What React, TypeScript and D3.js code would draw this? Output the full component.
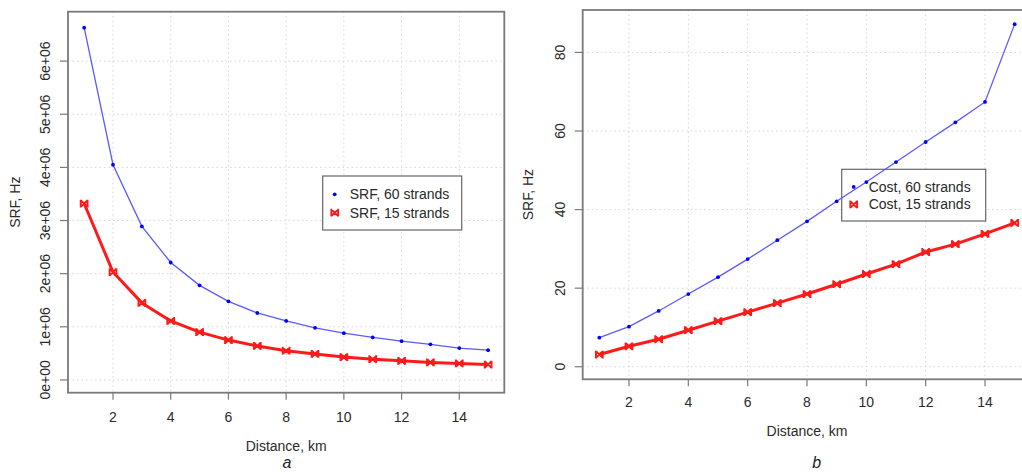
import React from "react";
import * as d3 from "d3";

const distances = [1, 2, 3, 4, 5, 6, 7, 8, 9, 10, 11, 12, 13, 14, 15];
const srf60 = [6.63e6, 4.05e6, 2.89e6, 2.21e6, 1.78e6, 1.48e6, 1.26e6, 1.11e6, 0.98e6, 0.88e6, 0.8e6, 0.73e6, 0.67e6, 0.6e6, 0.56e6];
const srf15 = [3.32e6, 2.03e6, 1.45e6, 1.11e6, 0.9e6, 0.75e6, 0.64e6, 0.55e6, 0.49e6, 0.43e6, 0.39e6, 0.36e6, 0.33e6, 0.31e6, 0.29e6];
const cost60 = [7.4, 10.2, 14.2, 18.5, 22.8, 27.4, 32.2, 37.0, 42.1, 47.0, 52.1, 57.2, 62.2, 67.4, 87.2];
const cost15 = [3.1, 5.2, 7.0, 9.3, 11.6, 13.9, 16.2, 18.5, 21.0, 23.6, 26.1, 29.2, 31.2, 33.8, 36.6];
const xTicks = [2, 4, 6, 8, 10, 12, 14];
const yTicksA = [0, 1e6, 2e6, 3e6, 4e6, 5e6, 6e6];
const yTickLabelsA = ["0e+00", "1e+06", "2e+06", "3e+06", "4e+06", "5e+06", "6e+06"];
const yTicksB = [0, 20, 40, 60, 80];
const yTickLabelsB = ["0", "20", "40", "60", "80"];
const legendA = ["SRF, 60 strands", "SRF, 15 strands"];
const legendB = ["Cost, 60 strands", "Cost, 15 strands"];

const FONT = "'Liberation Sans', Arial, sans-serif";
const BLUE = "#0000ff";
const BLUE_LINE = "#5b5bff";
const RED = "#ff1a1a";
const TXT = "#2a2a2a";

type PanelProps = {
  box: { l: number; t: number; r: number; b: number };
  yDomain: [number, number];
  yTicks: number[];
  yTickLabels: string[];
  s60: number[];
  s15: number[];
  legend: string[];
  legendBox: { x: number; y: number; w: number; h: number };
  yLabelX: number;
  xTitleY: number;
  tickLabelGap: number;
  letter: string;
  letterPos: [number, number];
};

function RedMarker({ x, y }: { x: number; y: number }) {
  const s = 3.4;
  return (
    <path
      d={`M${x - s},${y - s}L${x + s},${y + s}M${x + s},${y - s}L${x - s},${y + s}M${x - s},${y - s - 0.5}V${y + s + 0.5}M${x + s},${y - s - 0.5}V${y + s + 0.5}`}
      stroke={RED}
      strokeWidth={1.9}
      fill="none"
    />
  );
}

function Panel(p: PanelProps) {
  const { box } = p;
  const x = d3.scaleLinear().domain([0.44, 15.56]).range([box.l, box.r]);
  const y = d3.scaleLinear().domain(p.yDomain).range([box.b, box.t]);
  const line = d3
    .line<number>()
    .x((_, i) => x(distances[i]))
    .y((d) => y(d));
  const lb = p.legendBox;
  const row1 = lb.y + lb.h * 0.34;
  const row2 = lb.y + lb.h * 0.68;
  const symX = lb.x + 12;
  const txtX = lb.x + 27;
  const midY = (box.t + box.b) / 2;
  const midX = (box.l + box.r) / 2;
  return (
    <g fontFamily={FONT} fontSize={14} fill={TXT}>
      {xTicks.map((t) => (
        <line key={"gx" + t} x1={x(t)} x2={x(t)} y1={box.t} y2={box.b} stroke="#d6d6d6" strokeDasharray="1.5,3" />
      ))}
      {p.yTicks.map((t) => (
        <line key={"gy" + t} x1={box.l} x2={box.r} y1={y(t)} y2={y(t)} stroke="#d6d6d6" strokeDasharray="1.5,3" />
      ))}
      <rect x={lb.x} y={lb.y} width={lb.w} height={lb.h} fill="#fff" stroke="#666" strokeWidth={1.2} />
      <path d={line(p.s60) || ""} fill="none" stroke={BLUE_LINE} strokeWidth={1.3} />
      {p.s60.map((v, i) => (
        <circle key={"b" + i} cx={x(distances[i])} cy={y(v)} r={1.9} fill={BLUE} />
      ))}
      <path d={line(p.s15) || ""} fill="none" stroke={RED} strokeWidth={3} strokeLinejoin="round" />
      {p.s15.map((v, i) => (
        <RedMarker key={"r" + i} x={x(distances[i])} y={y(v)} />
      ))}
      <circle cx={symX} cy={row1} r={1.9} fill={BLUE} />
      <RedMarker x={symX} y={row2} />
      <text x={txtX} y={row1} dy="0.35em">{p.legend[0]}</text>
      <text x={txtX} y={row2} dy="0.35em">{p.legend[1]}</text>
      <rect x={box.l} y={box.t} width={box.r - box.l} height={box.b - box.t} fill="none" stroke="#7a7a7a" strokeWidth={1.8} />
      {xTicks.map((t) => (
        <g key={"xt" + t}>
          <line x1={x(t)} x2={x(t)} y1={box.b} y2={box.b + 7} stroke="#7a7a7a" strokeWidth={1.2} />
          <text x={x(t)} y={box.b + p.tickLabelGap} dy="0.35em" textAnchor="middle">{t}</text>
        </g>
      ))}
      {p.yTicks.map((t, i) => (
        <g key={"yt" + t}>
          <line x1={box.l - 8} x2={box.l} y1={y(t)} y2={y(t)} stroke="#7a7a7a" strokeWidth={1.2} />
          <text
            transform={`translate(${box.l - 23},${y(t)}) rotate(-90)`}
            dy="0.35em"
            textAnchor="middle"
          >
            {p.yTickLabels[i]}
          </text>
        </g>
      ))}
      <text transform={`translate(${p.yLabelX},${midY}) rotate(-90)`} dy="0.35em" textAnchor="middle">SRF, Hz</text>
      <text x={midX} y={p.xTitleY} dy="0.35em" textAnchor="middle">Distance, km</text>
      <text x={p.letterPos[0]} y={p.letterPos[1]} dy="0.35em" textAnchor="middle" fontStyle="italic" fontSize={16} fill="#222">
        {p.letter}
      </text>
    </g>
  );
}

export default function App() {
  return (
    <div style={{ position: "fixed", left: 0, top: 0 }}>
      <svg width={1022} height={474} style={{ display: "block", background: "#fff" }}>
        <Panel
          box={{ l: 68, t: 11.7, r: 504.3, b: 392.7 }}
          yDomain={[-0.24e6, 6.93e6]}
          yTicks={yTicksA}
          yTickLabels={yTickLabelsA}
          s60={srf60}
          s15={srf15}
          legend={legendA}
          legendBox={{ x: 322.7, y: 176, w: 139, h: 54 }}
          yLabelX={15}
          xTitleY={446}
          tickLabelGap={24}
          letter="a"
          letterPos={[287, 462]}
        />
        <Panel
          box={{ l: 582.7, t: 10, r: 1031.3, b: 379.3 }}
          yDomain={[-3.2, 90.8]}
          yTicks={yTicksB}
          yTickLabels={yTickLabelsB}
          s60={cost60}
          s15={cost15}
          legend={legendB}
          legendBox={{ x: 841.7, y: 169.3, w: 144, h: 51.7 }}
          yLabelX={528}
          xTitleY={431}
          tickLabelGap={22.5}
          letter="b"
          letterPos={[816.7, 462]}
        />
      </svg>
    </div>
  );
}
